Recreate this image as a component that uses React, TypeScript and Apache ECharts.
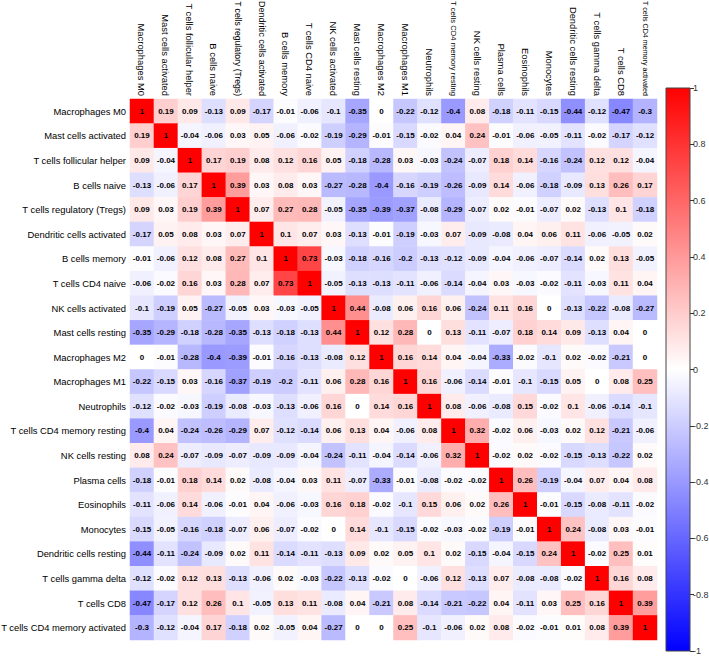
import React, { useEffect, useRef } from "react";
import * as echarts from "echarts";

const cellTypes = [
  "Macrophages M0",
  "Mast cells activated",
  "T cells follicular helper",
  "B cells naive",
  "T cells regulatory (Tregs)",
  "Dendritic cells activated",
  "B cells memory",
  "T cells CD4 naive",
  "NK cells activated",
  "Mast cells resting",
  "Macrophages M2",
  "Macrophages M1",
  "Neutrophils",
  "T cells CD4 memory resting",
  "NK cells resting",
  "Plasma cells",
  "Eosinophils",
  "Monocytes",
  "Dendritic cells resting",
  "T cells gamma delta",
  "T cells CD8",
  "T cells CD4 memory activated",
];

const corr: number[][] = [
  [1, 0.19, 0.09, -0.13, 0.09, -0.17, -0.01, -0.06, -0.1, -0.35, 0, -0.22, -0.12, -0.4, 0.08, -0.18, -0.11, -0.15, -0.44, -0.12, -0.47, -0.3],
  [0.19, 1, -0.04, -0.06, 0.03, 0.05, -0.06, -0.02, -0.19, -0.29, -0.01, -0.15, -0.02, 0.04, 0.24, -0.01, -0.06, -0.05, -0.11, -0.02, -0.17, -0.12],
  [0.09, -0.04, 1, 0.17, 0.19, 0.08, 0.12, 0.16, 0.05, -0.18, -0.28, 0.03, -0.03, -0.24, -0.07, 0.18, 0.14, -0.16, -0.24, 0.12, 0.12, -0.04],
  [-0.13, -0.06, 0.17, 1, 0.39, 0.03, 0.08, 0.03, -0.27, -0.28, -0.4, -0.16, -0.19, -0.26, -0.09, 0.14, -0.06, -0.18, -0.09, 0.13, 0.26, 0.17],
  [0.09, 0.03, 0.19, 0.39, 1, 0.07, 0.27, 0.28, -0.05, -0.35, -0.39, -0.37, -0.08, -0.29, -0.07, 0.02, -0.01, -0.07, 0.02, -0.13, 0.1, -0.18],
  [-0.17, 0.05, 0.08, 0.03, 0.07, 1, 0.1, 0.07, 0.03, -0.13, -0.01, -0.19, -0.03, 0.07, -0.09, -0.08, 0.04, 0.06, 0.11, -0.06, -0.05, 0.02],
  [-0.01, -0.06, 0.12, 0.08, 0.27, 0.1, 1, 0.73, -0.03, -0.18, -0.16, -0.2, -0.13, -0.12, -0.09, -0.04, -0.06, -0.07, -0.14, 0.02, 0.13, -0.05],
  [-0.06, -0.02, 0.16, 0.03, 0.28, 0.07, 0.73, 1, -0.05, -0.13, -0.13, -0.11, -0.06, -0.14, -0.04, 0.03, -0.03, -0.02, -0.11, -0.03, 0.11, 0.04],
  [-0.1, -0.19, 0.05, -0.27, -0.05, 0.03, -0.03, -0.05, 1, 0.44, -0.08, 0.06, 0.16, 0.06, -0.24, 0.11, 0.16, 0, -0.13, -0.22, -0.08, -0.27],
  [-0.35, -0.29, -0.18, -0.28, -0.35, -0.13, -0.18, -0.13, 0.44, 1, 0.12, 0.28, 0, 0.13, -0.11, -0.07, 0.18, 0.14, 0.09, -0.13, 0.04, 0],
  [0, -0.01, -0.28, -0.4, -0.39, -0.01, -0.16, -0.13, -0.08, 0.12, 1, 0.16, 0.14, 0.04, -0.04, -0.33, -0.02, -0.1, 0.02, -0.02, -0.21, 0],
  [-0.22, -0.15, 0.03, -0.16, -0.37, -0.19, -0.2, -0.11, 0.06, 0.28, 0.16, 1, 0.16, -0.06, -0.14, -0.01, -0.1, -0.15, 0.05, 0, 0.08, 0.25],
  [-0.12, -0.02, -0.03, -0.19, -0.08, -0.03, -0.13, -0.06, 0.16, 0, 0.14, 0.16, 1, 0.08, -0.06, -0.08, 0.15, -0.02, 0.1, -0.06, -0.14, -0.1],
  [-0.4, 0.04, -0.24, -0.26, -0.29, 0.07, -0.12, -0.14, 0.06, 0.13, 0.04, -0.06, 0.08, 1, 0.32, -0.02, 0.06, -0.03, 0.02, 0.12, -0.21, -0.06],
  [0.08, 0.24, -0.07, -0.09, -0.07, -0.09, -0.09, -0.04, -0.24, -0.11, -0.04, -0.14, -0.06, 0.32, 1, -0.02, 0.02, -0.02, -0.15, -0.13, -0.22, 0.02],
  [-0.18, -0.01, 0.18, 0.14, 0.02, -0.08, -0.04, 0.03, 0.11, -0.07, -0.33, -0.01, -0.08, -0.02, -0.02, 1, 0.26, -0.19, -0.04, 0.07, 0.04, 0.08],
  [-0.11, -0.06, 0.14, -0.06, -0.01, 0.04, -0.06, -0.03, 0.16, 0.18, -0.02, -0.1, 0.15, 0.06, 0.02, 0.26, 1, -0.01, -0.15, -0.08, -0.11, -0.02],
  [-0.15, -0.05, -0.16, -0.18, -0.07, 0.06, -0.07, -0.02, 0, 0.14, -0.1, -0.15, -0.02, -0.03, -0.02, -0.19, -0.01, 1, 0.24, -0.08, 0.03, -0.01],
  [-0.44, -0.11, -0.24, -0.09, 0.02, 0.11, -0.14, -0.11, -0.13, 0.09, 0.02, 0.05, 0.1, 0.02, -0.15, -0.04, -0.15, 0.24, 1, -0.02, 0.25, 0.01],
  [-0.12, -0.02, 0.12, 0.13, -0.13, -0.06, 0.02, -0.03, -0.22, -0.13, -0.02, 0, -0.06, 0.12, -0.13, 0.07, -0.08, -0.08, -0.02, 1, 0.16, 0.08],
  [-0.47, -0.17, 0.12, 0.26, 0.1, -0.05, 0.13, 0.11, -0.08, 0.04, -0.21, 0.08, -0.14, -0.21, -0.22, 0.04, -0.11, 0.03, 0.25, 0.16, 1, 0.39],
  [-0.3, -0.12, -0.04, 0.17, -0.18, 0.02, -0.05, 0.04, -0.27, 0, 0, 0.25, -0.1, -0.06, 0.02, 0.08, -0.02, -0.01, 0.01, 0.08, 0.39, 1],
];

const colorbarMin = -1;
const colorbarMax = 1;
const colorbarStep = 0.2;

const FONT = "'Liberation Sans', Arial, sans-serif";
const LABEL_SIZE = 9.4;
const TOP_LABEL_ROOM = 95;

export default function App() {
  const ref = useRef<HTMLDivElement>(null);

  useEffect(() => {
    if (!ref.current) return;
    const chart = echarts.init(ref.current, undefined, { renderer: "svg" });

    const heatData: [number, number, number][] = [];
    corr.forEach((row, yi) => {
      row.forEach((v, xi) => {
        heatData.push([xi, yi, v]);
      });
    });

    // fit each rotated column label into the space above the grid
    const ctx = document.createElement("canvas").getContext("2d");
    const rich: Record<string, any> = {};
    cellTypes.forEach((name, i) => {
      let size = LABEL_SIZE;
      if (ctx) {
        ctx.font = `${LABEL_SIZE}px ${FONT}`;
        const w = ctx.measureText(name).width;
        if (w > TOP_LABEL_ROOM) size = (LABEL_SIZE * TOP_LABEL_ROOM) / w;
      }
      rich["c" + i] = { fontSize: size, color: "#000", fontFamily: FONT };
    });

    chart.setOption({
      animation: false,
      backgroundColor: "#ffffff",
      textStyle: { fontFamily: FONT },
      grid: [
        {
          left: 130,
          top: 99,
          right: 52,
          bottom: 19,
          containLabel: false,
          outerBoundsMode: "none",
        },
        {
          left: 666,
          width: 24,
          top: 88,
          bottom: 8,
          show: true,
          borderColor: "#444",
          borderWidth: 1,
          backgroundColor: "transparent",
          z: 5,
          containLabel: false,
          outerBoundsMode: "none",
        },
      ],
      xAxis: [
        {
          type: "category",
          data: cellTypes,
          gridIndex: 0,
          position: "top",
          axisLine: { show: false },
          axisTick: { show: false },
          splitLine: { show: false },
          axisLabel: {
            interval: 0,
            rotate: 90,
            fontSize: LABEL_SIZE,
            color: "#000",
            margin: 3,
            fontFamily: FONT,
            formatter: (value: string, index: number) => `{c${index}|${value}}`,
            rich,
          },
        },
        {
          type: "category",
          data: [""],
          gridIndex: 1,
          show: false,
        },
      ],
      yAxis: [
        {
          type: "category",
          data: cellTypes,
          gridIndex: 0,
          inverse: true,
          axisLine: { show: false },
          axisTick: { show: false },
          splitLine: { show: false },
          axisLabel: {
            interval: 0,
            fontSize: LABEL_SIZE,
            color: "#000",
            margin: 4,
            fontFamily: FONT,
          },
        },
        {
          type: "value",
          gridIndex: 1,
          min: colorbarMin,
          max: colorbarMax,
          interval: colorbarStep,
          position: "right",
          axisLine: { show: false },
          splitLine: { show: false },
          axisTick: { show: true, length: 4, lineStyle: { color: "#333" } },
          axisLabel: {
            fontSize: 9,
            color: "#333",
            margin: 3,
            fontFamily: FONT,
            formatter: (v: number) => String(Math.round(v * 10) / 10),
          },
        },
      ],
      visualMap: {
        show: false,
        type: "continuous",
        min: colorbarMin,
        max: colorbarMax,
        seriesIndex: 0,
        dimension: 2,
        inRange: { color: ["#0000FF", "#FFFFFF", "#FF0000"] },
      },
      series: [
        {
          type: "heatmap",
          xAxisIndex: 0,
          yAxisIndex: 0,
          data: heatData,
          label: {
            show: true,
            fontSize: 8,
            fontWeight: "bold",
            color: "#000",
            fontFamily: FONT,
            formatter: (p: any) => String(p.value[2]),
          },
          itemStyle: { borderWidth: 0 },
        },
        {
          type: "bar",
          xAxisIndex: 1,
          yAxisIndex: 1,
          data: [colorbarMax],
          barWidth: "100%",
          barGap: "-100%",
          itemStyle: {
            color: new echarts.graphic.LinearGradient(0, 0, 0, 1, [
              { offset: 0, color: "#FF0000" },
              { offset: 1, color: "#FFFFFF" },
            ]),
          },
        },
        {
          type: "bar",
          xAxisIndex: 1,
          yAxisIndex: 1,
          data: [colorbarMin],
          barWidth: "100%",
          barGap: "-100%",
          itemStyle: {
            color: new echarts.graphic.LinearGradient(0, 0, 0, 1, [
              { offset: 0, color: "#FFFFFF" },
              { offset: 1, color: "#0000FF" },
            ]),
          },
        },
      ],
    });

    return () => {
      chart.dispose();
    };
  }, []);

  return (
    <div
      ref={ref}
      style={{ position: "fixed", left: 0, top: 0, width: 709, height: 659 }}
    />
  );
}
